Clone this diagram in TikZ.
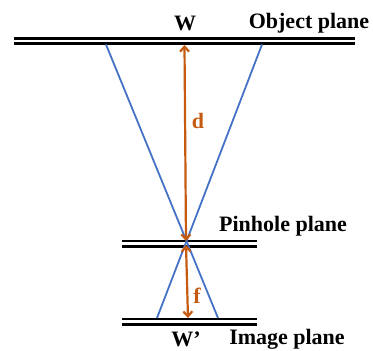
\documentclass[tikz,border=0pt]{standalone}
\usepackage{fontspec}
\setmainfont{Liberation Serif}
\usetikzlibrary{arrows.meta}
\definecolor{rayblue}{RGB}{68,114,196}
\definecolor{dimorange}{RGB}{197,90,17}
\begin{document}
\begin{tikzpicture}[x=1pt,y=-1pt,
  plane/.style={line width=2.1pt,black},
  ray/.style={line width=1.8pt,rayblue},
  dim/.style={line width=2.2pt,dimorange,{Straight Barb[length=5pt,width=9pt]}-{Straight Barb[length=5pt,width=9pt]}},
  lbl/.style={font=\bfseries\fontsize{22}{24}\selectfont,inner sep=0pt},
  dlbl/.style={font=\bfseries\fontsize{22}{24}\selectfont,inner sep=0pt,text=dimorange}]
\useasboundingbox (0,0) rectangle (373,351);
% planes
\coordinate (o1) at (14,38.5); \coordinate (o2) at (355,38.5);
\coordinate (o3) at (14,43.5); \coordinate (o4) at (355,43.5);
\draw[plane] (o1) -- (o2);
\draw[plane] (o3) -- (o4);
\coordinate (p1) at (122,241); \coordinate (p2) at (257,241);
\coordinate (p3) at (122,246.5); \coordinate (p4) at (257,246.5);
\draw[plane] (p1) -- (p2);
\draw[plane] (p3) -- (p4);
\coordinate (i1) at (122,319); \coordinate (i2) at (257,319);
\coordinate (i3) at (122,324.5); \coordinate (i4) at (257,324.5);
\draw[plane] (i1) -- (i2);
\draw[plane] (i3) -- (i4);
% rays
\coordinate (tl) at (106,44.5);
\coordinate (tr) at (262,44.5);
\coordinate (bl) at (157,318);
\coordinate (br) at (218,318);
\draw[ray] (tl) -- (br);
\draw[ray] (tr) -- (bl);
% dimensions
\coordinate (dtop) at (184.5,45);
\coordinate (dbot) at (186,241);
\coordinate (ftop) at (186,245);
\coordinate (fbot) at (188,318);
\draw[dim] (dtop) -- (dbot);
\draw[dim] (ftop) -- (fbot);
% labels
\node[lbl] (w) at (185,23) {W};
\node[lbl] (obj) at (309,23) {Object plane};
\node[dlbl] (d) at (198,121) {d};
\node[lbl] (pin) at (283,226) {Pinhole plane};
\node[dlbl] (f) at (197,296) {f};
\node[lbl] (w2) at (186,339) {W’};
\node[lbl] (img) at (287,339) {Image plane};
\end{tikzpicture}
\end{document}
